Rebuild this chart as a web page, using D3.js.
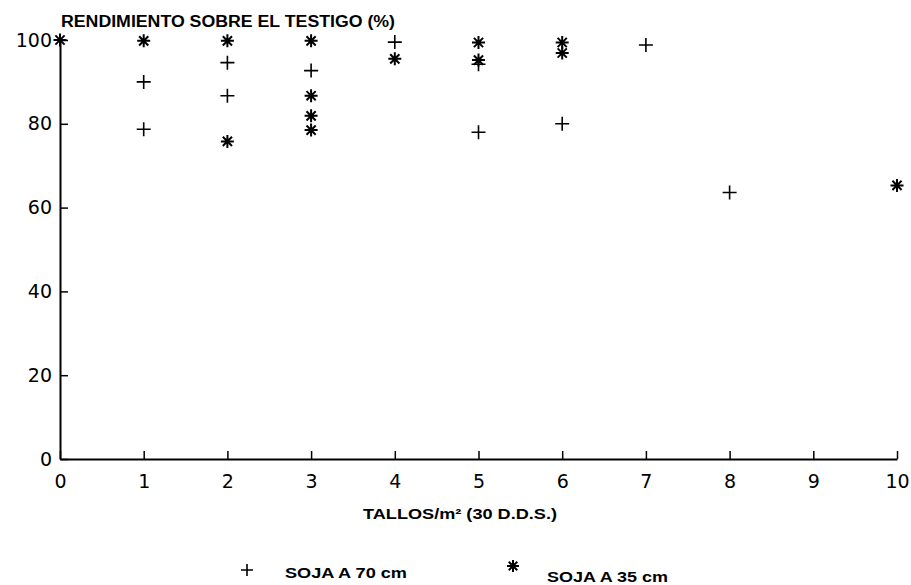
<!DOCTYPE html>
<html><head><meta charset="utf-8">
<script src="https://cdn.jsdelivr.net/npm/d3@7"></script>
<style>body{margin:0;background:#fff}svg{display:block}</style>
</head><body>
<svg id="c" width="911" height="585"></svg>
<script>
const xTicks = [0,1,2,3,4,5,6,7,8,9,10];
const yTicks = [0,20,40,60,80,100];
// SOJA A 70 cm (plus)
const soja70x = [1,1,2,2,3,4,5,5,6,7,8];
const soja70y = [90,78.7,94.6,86.7,92.7,99.5,94.2,78,80,98.8,63.6];
// SOJA A 35 cm (asterisk)
const soja35x = [0,1,2,2,3,3,3,3,4,5,5,6,6,10];
const soja35y = [100,99.8,99.8,75.8,99.8,86.7,81.9,78.5,95.5,99.4,95.2,99.4,96.9,65.3];
const yTitle = "RENDIMIENTO SOBRE EL TESTIGO (%)";
const xTitle = "TALLOS/m\u00B2 (30 D.D.S.)";
const legendLabels = ["SOJA A 70 cm","SOJA A 35 cm"];

const svg = d3.select("#c");
const x = d3.scaleLinear().domain([0,10]).range([60,897]);
const y = d3.scaleLinear().domain([0,100]).range([459,40]);
const font = "'Liberation Sans', Arial, sans-serif";
const tickFont = "'DejaVu Sans', sans-serif";

// axes
const xa = svg.append("g").attr("transform",`translate(0,${y(0)})`)
  .call(d3.axisBottom(x).tickValues(xTicks).tickSize(-8).tickPadding(18).tickSizeOuter(0));
const ya = svg.append("g").attr("transform",`translate(${x(0)},0)`)
  .call(d3.axisLeft(y).tickValues(yTicks).tickSize(-8).tickPadding(8).tickSizeOuter(0));
[xa,ya].forEach(a=>{
  a.select(".domain").attr("stroke","#000").attr("stroke-width",2);
  a.selectAll(".tick line").attr("stroke","#000").attr("stroke-width",1.5);
  a.selectAll(".tick text").attr("fill","#000").style("font-family",tickFont).style("font-size","19px").style("font-weight","normal");
});
xa.selectAll(".tick text").attr("dy","0.6em");

// markers
function plus(g, cx, cy, s){
  g.append("path").attr("d",`M${cx-s},${cy}H${cx+s}M${cx},${cy-s}V${cy+s}`)
   .attr("stroke","#000").attr("stroke-width",1.6).attr("fill","none");
}
function star(g, cx, cy, s){
  let d="";
  for(let i=0;i<4;i++){
    const a=i*Math.PI/4;
    const dx=Math.cos(a)*s, dy=Math.sin(a)*s;
    d+=`M${cx-dx},${cy-dy}L${cx+dx},${cy+dy}`;
  }
  g.append("path").attr("d",d).attr("stroke","#000").attr("stroke-width",2).attr("fill","none");
}
const pts = svg.append("g");
soja70x.forEach((v,i)=>plus(pts, x(v), y(soja70y[i]), 7));
soja35x.forEach((v,i)=>star(pts, x(v), y(soja35y[i]), 6.5));

// titles
svg.append("text").attr("x",61).attr("y",27).text(yTitle)
  .attr("textLength",334).attr("lengthAdjust","spacingAndGlyphs")
  .style("font-family",font).style("font-weight","bold").style("font-size","16px");
svg.append("text").attr("x",363).attr("y",519).text(xTitle)
  .attr("textLength",194).attr("lengthAdjust","spacingAndGlyphs")
  .style("font-family",font).style("font-weight","bold").style("font-size","15px");

// legend
const lg = svg.append("g");
plus(lg, 247, 570, 6);
star(lg, 513, 566, 6);
lg.append("text").attr("x",285).attr("y",578).text(legendLabels[0])
  .attr("textLength",122).attr("lengthAdjust","spacingAndGlyphs")
  .style("font-family",font).style("font-weight","bold").style("font-size","14px");
lg.append("text").attr("x",547).attr("y",582).text(legendLabels[1])
  .attr("textLength",121).attr("lengthAdjust","spacingAndGlyphs")
  .style("font-family",font).style("font-weight","bold").style("font-size","14px");
</script>
</body></html>
